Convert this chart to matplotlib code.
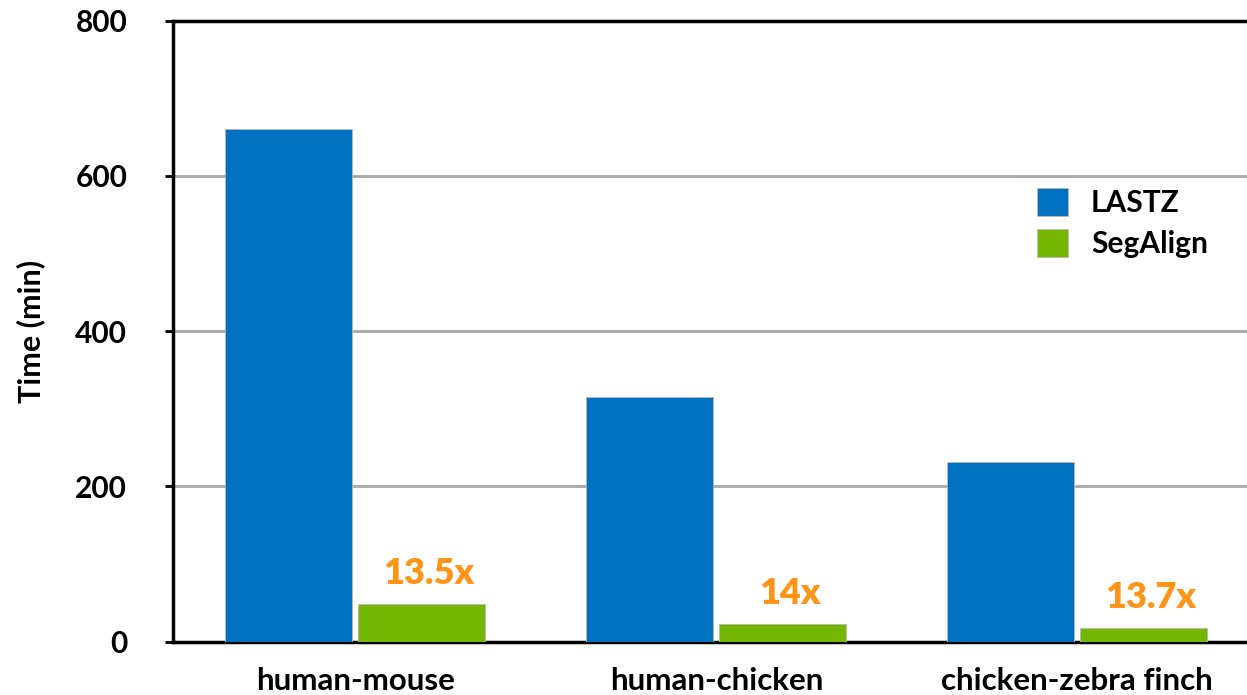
import numpy as np
import matplotlib
matplotlib.use("Agg")
import matplotlib.pyplot as plt

plt.rcParams['font.family'] = ['Lato', 'DejaVu Sans']

pairs = ["human-mouse", "human-chicken", "chicken-zebra finch"]
lastz = [660, 315, 232]
segalign = [49, 22.5, 17.5]
speedup = ["13.5x", "14x", "13.7x"]
y_ticks = [0, 200, 400, 600, 800]

blue = "#0070C0"
green = "#74B602"
orange = "#FF9416"

fig = plt.figure(figsize=(12.47, 6.95), dpi=100)
ax = fig.add_axes([173 / 1247, (695 - 641.7) / 695, (1247 - 173) / 1247, 621 / 695])

x = np.arange(len(pairs))
w = 0.352
gap = 0.0083
b1 = ax.bar(x - w / 2 - gap, lastz, w, color=blue, edgecolor="#B8B8B8", linewidth=0.6,
            label="LASTZ", zorder=3)
b2 = ax.bar(x + w / 2 + gap, segalign, w, color=green, edgecolor="#B8B8B8", linewidth=0.6,
            label="SegAlign", zorder=3)

for rect, txt in zip(b2, speedup):
    ax.annotate(txt, (rect.get_x() + rect.get_width() / 2, rect.get_height()),
                xytext=(5, 10), textcoords="offset points", ha="center", va="bottom",
                color=orange, fontsize=26, fontweight="heavy")

ax.set_ylim(0, 800)
ax.set_xlim(-0.505, 2.47)
ax.set_yticks(y_ticks)
ax.set_yticklabels([str(t) for t in y_ticks], fontsize=21.5, fontweight="bold")
ax.set_xticks(x)
ax.set_xticklabels(pairs, fontsize=22.5, fontweight="bold")
ax.tick_params(axis="y", length=6, width=2, pad=27)
ax.tick_params(axis="x", length=0, pad=18)
ax.set_ylabel("Time (min)", fontsize=22, fontweight="bold", labelpad=22)

ax.yaxis.grid(True, color="#A8A8A8", linewidth=2, zorder=0)
ax.set_axisbelow(True)
ax.spines["right"].set_visible(False)
for s in ["left", "top", "bottom"]:
    ax.spines[s].set_linewidth(2.5)
    ax.spines[s].set_color("black")

fig.legend(handles=[b1, b2], loc="upper left",
           bbox_to_anchor=(1037 / 1247, 1 - 188 / 695), frameon=False,
           prop={"weight": "bold", "size": 21.5},
           handlelength=1.05, handleheight=1.05, handletextpad=0.75,
           labelspacing=0.4, borderpad=0, borderaxespad=0)

fig.savefig("out.png", dpi=100)
